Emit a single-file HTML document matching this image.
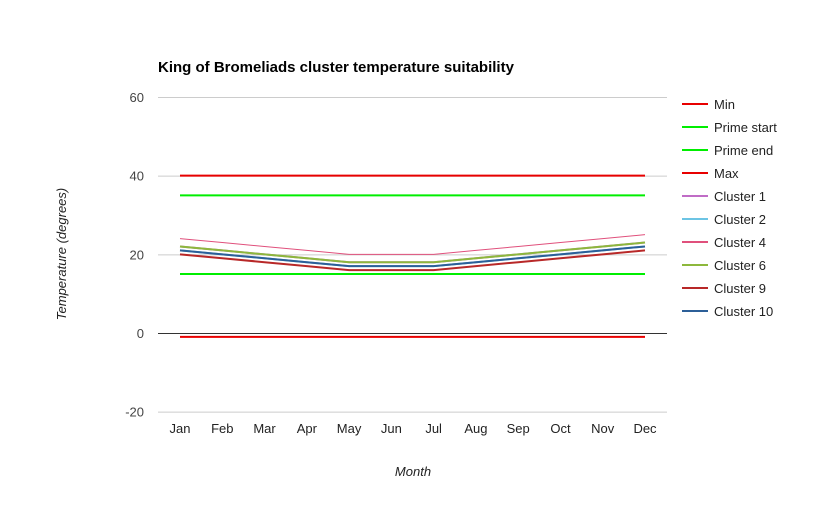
<!DOCTYPE html>
<html><head><meta charset="utf-8"><style>
body{margin:0;background:#fff;font-family:"Liberation Sans",Arial,sans-serif}
svg text{font-family:"Liberation Sans",Arial,sans-serif}
</style></head><body>
<svg id="chart" width="824" height="509" xmlns="http://www.w3.org/2000/svg">
<rect width="824" height="509" fill="#fff"/>
<text x="158" y="72" font-size="15" font-weight="bold" fill="#000">King of Bromeliads cluster temperature suitability</text>
<g id="grid"></g><g id="series"></g><g id="legend"></g>
<text x="413" y="476" font-size="13" font-style="italic" text-anchor="middle" fill="#222">Month</text>
<text transform="translate(66,254) rotate(-90)" font-size="13" font-style="italic" text-anchor="middle" fill="#222">Temperature (degrees)</text>
</svg>
<script>
const months=["Jan","Feb","Mar","Apr","May","Jun","Jul","Aug","Sep","Oct","Nov","Dec"];
const yTicks=[60,40,20,0,-20];
const seriesNames=["Min","Prime start","Prime end","Max","Cluster 1","Cluster 2","Cluster 4","Cluster 6","Cluster 9","Cluster 10"];
const seriesColors=["#e80000","#00ee00","#00ee00","#e80000","#c06cc6","#6cc4e4","#e0507c","#8db83c","#b82828","#2c5f98"];
const seriesWidths=[2,2,2,2,2,2,1,2,2,2];
const minVals=[-1,-1,-1,-1,-1,-1,-1,-1,-1,-1,-1,-1];
const primeStart=[15,15,15,15,15,15,15,15,15,15,15,15];
const primeEnd=[35,35,35,35,35,35,35,35,35,35,35,35];
const maxVals=[40,40,40,40,40,40,40,40,40,40,40,40];
const cluster1=[22,21,20,19,18,18,18,19,20,21,22,23];
const cluster2=[21,20,19,18,17,17,17,18,19,20,21,22];
const cluster4=[24,23,22,21,20,20,20,21,22,23,24,25];
const cluster6=[22,21,20,19,18,18,18,19,20,21,22,23];
const cluster9=[20,19,18,17,16,16,16,17,18,19,20,21];
const cluster10=[21,20,19,18,17,17,17,18,19,20,21,22];
const allSeries=[minVals,primeStart,primeEnd,maxVals,cluster1,cluster2,cluster4,cluster6,cluster9,cluster10];
const NS="http://www.w3.org/2000/svg";
const y=v=>333-(v)*(236/60);
const x=i=>180+i*(465/11);
function mk(t,a,p){const e=document.createElementNS(NS,t);for(const k in a)e.setAttribute(k,a[k]);p.appendChild(e);return e;}
const grid=document.getElementById('grid');
yTicks.forEach(t=>{
 const l=mk('line',{x1:158,x2:667,y1:y(t)+0.5,y2:y(t)+0.5,stroke:t===0?'#333':'#ccc','stroke-width':1},grid);
 
 
 const tx=mk('text',{x:144,y:y(t)+5,'font-size':13,'text-anchor':'end',fill:'#444'},grid);
 tx.textContent=t;
 
 
});
months.forEach((m,i)=>{
 const tx=mk('text',{x:x(i),y:433,'font-size':13,'text-anchor':'middle',fill:'#222'},grid);
 tx.textContent=m;
 
 
});
const sg=document.getElementById('series');
allSeries.forEach((s,k)=>{
 const p=mk('polyline',{points:s.map((v,i)=>x(i)+','+y(v)).join(' '),fill:'none',stroke:seriesColors[k],'stroke-width':seriesWidths[k]},sg);
 
 
});
const lg=document.getElementById('legend');
seriesNames.forEach((n,k)=>{
 const yy=104+k*23;
 const g=mk('g',{},lg);
 
 
 mk('line',{x1:682,x2:708,y1:yy,y2:yy,stroke:seriesColors[k],'stroke-width':2},g);
 const t=mk('text',{x:714,y:yy+5,'font-size':13,fill:'#222'},g);
 t.textContent=n;
});
</script>
</body></html>
